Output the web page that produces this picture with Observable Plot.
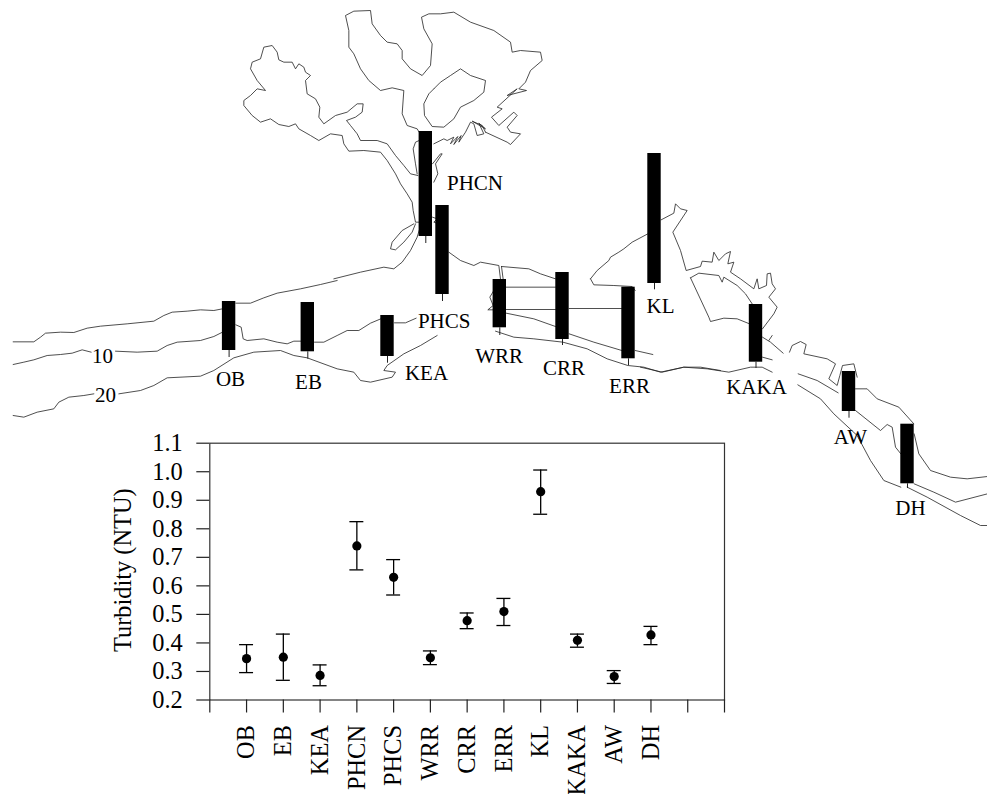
<!DOCTYPE html>
<html><head><meta charset="utf-8">
<style>html,body{margin:0;padding:0;background:#fff;overflow:hidden}
#c{position:relative;width:987px;height:794px}
#c svg{position:absolute;left:0;top:0;background:transparent;overflow:hidden}</style>
<script src="https://cdn.jsdelivr.net/npm/d3@7"></script>
<script src="https://cdn.jsdelivr.net/npm/@observablehq/plot@0.6"></script>
</head><body><div id="c"></div>
<script>
const stations = ["OB","EB","KEA","PHCN","PHCS","WRR","CRR","ERR","KL","KAKA","AW","DH"];
const turbidity = [.345,.35,.286,.74,.63,.348,.478,.51,.93,.409,.282,.428];
const errHigh   = [.394,.431,.323,.825,.692,.372,.505,.556,1.006,.431,.303,.458];
const errLow    = [.296,.269,.25,.656,.568,.324,.45,.461,.851,.385,.258,.394];
const yTicks = [.2,.3,.4,.5,.6,.7,.8,.9,1,1.1];

// map positions of the station bars, map units
const barX      = [228.6,307.3,387,425.3,442,499.3,562,628,654,755.5,848.5,907];
const barTop    = [301,302,315,131,205,279,272,286.7,153,304,371,423.7];
const barBottom = [350,351.3,356,236,294,327.3,339,358.3,283,361.7,411,483.3];
const stemEnd   = [357,358.7,362.7,243,301,335,345,365,289.3,368,417.7,488];
const labelX = [230,308,426,474.5,443.7,498.7,563.5,629,660,756,850,910];
const labelY = [379,381.7,372.7,183,320.7,355.7,368,385.7,305.7,386.7,436.7,508];
const contourLabels = ["10","20"];
const contourX = [102,105];
const contourY = [356,395];

// map outlines: [origin x, origin y, x, y, x, y ...] at 3x
const west = [
 [0,280,38,184,100,184,120,170,135,158,180,155,220,156,260,143,300,137,380,130,460,122,490,105,515,95,560,92,600,88,640,90,666,85],
 [0,280,706,68,750,68,790,52,830,38,900,25,960,12,1010,0],
 [0,280,38,252,70,245,100,238,140,225,180,222,215,218,245,208,272,215],
 [0,280,345,212,410,215,470,212,500,195,530,185,600,180,640,168,666,155],
 [0,280,706,133,722,140,728,175,740,180,790,175,830,185,860,190,880,182,902,182],
 [0,280,942,185,970,185,1010,165,1040,150,1075,150,1110,128,1141,115],
 [0,280,1182,127,1215,127,1247,113],
 [0,280,38,405,70,410,110,395,160,385,175,365,205,350,250,345,280,340],
 [0,280,355,340,420,330,460,315,500,292,600,287,640,270,700,232,760,215,840,210,880,225,920,232,1010,265,1060,275,1080,300,1110,305,1175,290,1185,275,1150,270,1160,255,1210,220,1260,195,1310,165]
];
const harbour = [
 [220,0,340,835,420,815,490,800,520,805,545,785,570,750,590,710,596,690],
 [220,0,580,670,545,690,515,725,510,745,525,748,550,725,575,695,585,670],
 [220,0,596,665,585,665,578,630,575,605,560,580,540,550,525,520,500,480,480,455,430,450,385,452,370,430,365,405,330,400,295,420,270,405,235,385,225,370,205,378,175,372,150,355,120,365,95,345,70,315,70,300,90,285,110,265,135,270,110,240,90,205,95,185,120,175,130,140,155,135,170,155,175,178,190,185,215,185,225,205,235,190,250,200,255,215,270,225,255,240,260,280,285,295,298,320,295,350,310,370,345,345,380,335,410,310,428,310,425,335,405,350,378,360,390,375,410,400,420,420,470,420,500,430,525,465,550,495,570,520,592,525],
 [220,0,596,395,590,385,560,375,545,340,550,270,515,262,480,270,445,240,420,205,400,160,385,140,385,90,375,45,400,32,450,30,455,70,480,105,500,125,530,130,545,150,545,175,570,205,605,225,630,195,635,130,610,85,603,50,625,40,660,40,700,35,750,65,820,90,870,125,875,155,900,150,960,155,965,180,930,210,915,245,895,265,918,270,860,285,890,265,830,320,845,325,813,350,835,375,880,335,890,345,860,380,870,395,900,400,870,432,860,425,795,395],
 [220,0,795,395,785,375,755,362,795,385,775,368,790,400,770,405,760,370,750,365,735,395,715,425,722,405,700,432,712,408,690,430,700,410,680,420,670,415,640,430],
 [220,0,596,420,585,425,578,445,585,490,590,520],
 [220,0,636,490,660,460,665,460,645,490,652,520,640,545],
 [220,0,640,265,660,245,690,225,720,205,750,225,795,240,790,275,760,300,720,320,700,355,670,380,635,378,612,345,610,310,625,280,640,265],
 [220,0,636,650,650,655,640,665,655,670]
];
const centre = [
 [400,190,145,185,180,210,220,225,240,215,295,225,300,266],
 [400,190,303,228,308,266],
 [400,190,303,228,385,235,420,250,465,265],
 [400,190,317,290,465,290],
 [400,190,317,357,465,357],
 [400,190,506,354,664,354],
 [400,190,280,300,268,320,278,345,262,358,280,358],
 [400,190,317,368,400,385,465,408],
 [400,190,506,430,580,455,664,480],
 [400,190,704,480,757,492],
 [400,190,285,422,340,440,400,445,487,455,560,475,620,505,682,525,730,530,780,545,850,530,900,530,960,540],
 [400,190,570,265,580,283,640,285,695,288,704,300],
 [400,190,570,265,590,240,625,210,630,200,655,185,670,175,695,155,742,130]
];
const east = [
 [640,190,0,530,65,545,130,530,200,535,265,545,330,530,365,530,395,545],
 [640,190,62,88,100,68,105,40,120,55,140,60,97,125,120,180,137,240,180,228,185,212,215,215,220,185,235,210,255,190,270,183,262,220,280,215,270,245,300,265,340,295,350,265,355,295,378,285,380,250,390,248,395,280,405,295,385,320,410,350,400,370,366,415],
 [640,190,150,262,175,248,235,255,245,275,250,260,290,285,315,310,335,340],
 [640,190,150,262,205,380,210,393,250,383,290,385,327,400],
 [640,190,366,440,390,455,428,488],
 [640,190,385,450,395,435],
 [640,190,366,500,395,508],
 [640,190,447,485,455,465,480,453,497,462,490,490,560,505,585,520,565,565,590,585,598,555,606,525,640,520,650,560],
 [640,190,473,550,530,570,593,607],
 [640,190,472,583,540,625,580,670,650,735,690,810,730,870,781,890],
 [640,190,645,595,680,595,710,625,775,650,820,700],
 [640,190,645,660,720,720,740,702,755,710,765,770,781,790],
 [640,190,821,730,835,790,870,840,930,860,980,865,1041,858],
 [640,190,821,880,880,905,945,935,1041,910],
 [640,190,800,890,860,920,960,975,1020,1005,1041,1005]
];

const coast = [];
[...west,...harbour,...centre,...east].forEach((l,k)=>{
  for(let i=2;i<l.length;i+=2) coast.push({k,x:l[0]+l[i]/3,y:l[1]+l[i+1]/3});
});
const idx = stations.map((_,i)=>i);
const font = "'Liberation Serif','Times New Roman',serif";

const map = Plot.plot({
  width:987,height:794,margin:0,
  style:{fontFamily:font,background:"transparent"},
  x:{domain:[0,987],range:[0,987],axis:null},
  y:{domain:[0,794],range:[0,794],axis:null},
  marks:[
    Plot.line(coast,{x:"x",y:"y",z:"k",stroke:"#222",strokeWidth:0.8}),
    Plot.ruleX(idx,{x:i=>barX[i],y1:i=>barBottom[i],y2:i=>stemEnd[i],stroke:"#222",strokeWidth:1}),
    Plot.rect(idx,{x1:i=>barX[i]-6.7,x2:i=>barX[i]+6.7,y1:i=>barTop[i],y2:i=>barBottom[i],fill:"#000"}),
    Plot.text(idx,{x:i=>labelX[i],y:i=>labelY[i],text:i=>stations[i],fontSize:21,fill:"#000",lineAnchor:"middle"}),
    Plot.text(contourLabels,{x:(d,i)=>contourX[i],y:(d,i)=>contourY[i],text:d=>d,fontSize:21,fill:"#000",lineAnchor:"middle"})
  ]
});

const inset = Plot.plot({
  width:987,height:794,
  marginLeft:209.3,marginRight:263,marginTop:442.7,marginBottom:94.5,
  style:{fontFamily:font,background:"transparent"},
  x:{domain:[0,14],axis:null},
  y:{domain:[.2,1.1],axis:null},
  marks:[
    Plot.frame({stroke:"#333",strokeWidth:1.2}),
    Plot.axisY({ticks:yTicks,tickSize:13,tickPadding:14,tickFormat:d3.format(".1f"),fontSize:24.4,fill:"#000",stroke:"#222",strokeWidth:1.2,label:null}),
    Plot.axisX({ticks:d3.range(0,15),tickSize:13,tickPadding:12,tickRotate:-90,fontSize:24.4,fill:"#000",stroke:"#222",strokeWidth:1.2,label:null,
      tickFormat:d=>stations[d-1]||""}),
    Plot.text(["Turbidity (NTU)"],{x:0,y:.655,frameAnchor:"left",dx:-87,rotate:-90,text:d=>d,fontSize:24.4,fill:"#000",lineAnchor:"middle",textAnchor:"middle"}),
    Plot.ruleX(idx,{x:i=>i+1,y1:i=>errLow[i],y2:i=>errHigh[i],stroke:"#000",strokeWidth:1.3}),
    Plot.ruleY(idx,{y:i=>errHigh[i],x1:i=>i+1-.19,x2:i=>i+1+.19,stroke:"#000",strokeWidth:1.3}),
    Plot.ruleY(idx,{y:i=>errLow[i],x1:i=>i+1-.19,x2:i=>i+1+.19,stroke:"#000",strokeWidth:1.3}),
    Plot.dot(idx,{x:i=>i+1,y:i=>turbidity[i],r:4.6,fill:"#000"})
  ]
});
const c=document.getElementById("c");
c.append(map,inset);
</script></body></html>
